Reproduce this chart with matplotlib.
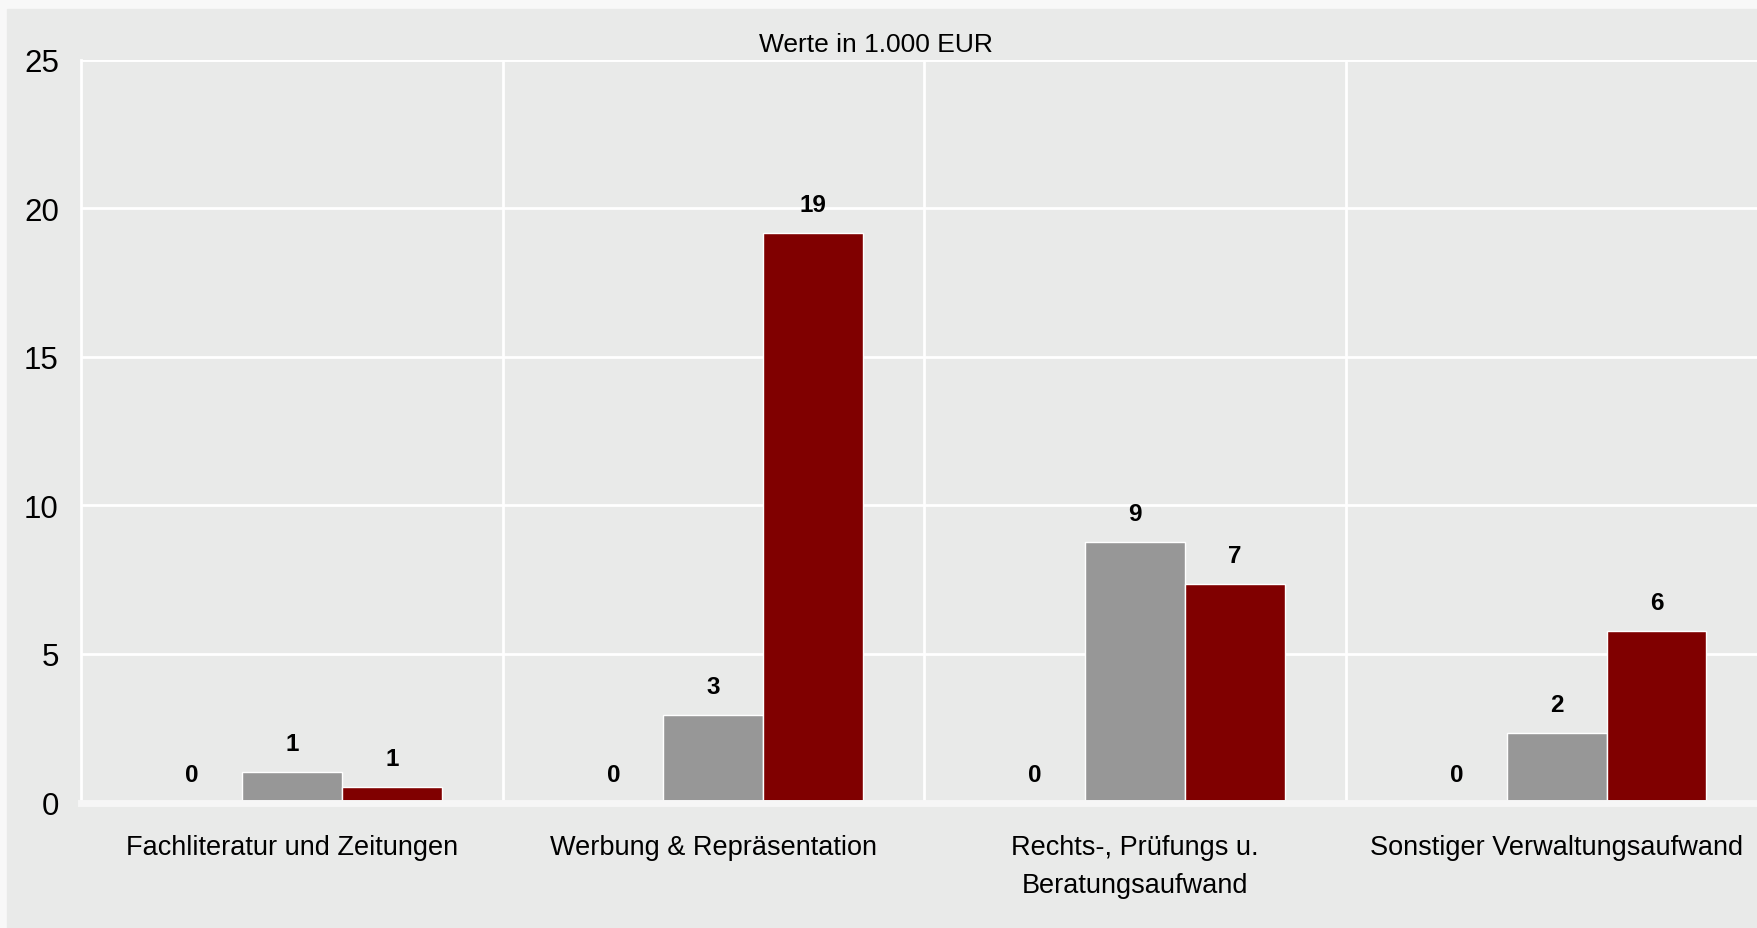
import matplotlib.pyplot as plt
import matplotlib.patches as mpatches
import numpy as np

plt.rcParams['font.family'] = ['Liberation Sans', 'DejaVu Sans']

categories = ['Fachliteratur und Zeitungen', 'Werbung & Repräsentation',
              'Rechts-, Prüfungs u.\nBeratungsaufwand', 'Sonstiger Verwaltungsaufwand']
series_a = [0, 0, 0, 0]
series_b = [1.02, 2.94, 8.75, 2.34]
series_c = [0.53, 19.15, 7.35, 5.77]
labels_a = ['0', '0', '0', '0']
labels_b = ['1', '3', '9', '2']
labels_c = ['1', '19', '7', '6']
colors = ['#e9eae9', '#979797', '#800000']

fig = plt.figure(figsize=(17.58, 9.29), dpi=100, facecolor='#f8f8f8')
# grey panel behind the chart
panel = mpatches.Rectangle((7 / 1758, 0), 1, 1 - 10 / 929,
                           transform=fig.transFigure, color='#e9eae9', zorder=-1)
fig.add_artist(panel)

ax = fig.add_axes([81 / 1758, 1 - 803.5 / 929, 4 * 421.6 / 1758, (803.5 - 60.5) / 929])
ax.set_facecolor('#e9eae9')

x = np.arange(len(categories))
w = 0.237
for i, (vals, labs) in enumerate([(series_a, labels_a), (series_b, labels_b), (series_c, labels_c)]):
    pos = x + (i - 1) * w
    ax.bar(pos, vals, w, color=colors[i], edgecolor='white' if i else 'none',
           linewidth=1, zorder=3)
    for xp, v, t in zip(pos, vals, labs):
        ax.annotate(t, (xp, v), xytext=(0, 20.5), textcoords='offset points',
                    ha='center', va='center', fontsize=17.5, fontweight='bold', zorder=4)

ax.set_xlim(-0.5, 3.5)
ax.set_ylim(0, 25)
ax.set_yticks([0, 5, 10, 15, 20, 25])
ax.set_xticks(x)
ax.set_xticklabels(categories, fontsize=19.5, linespacing=1.6)
ax.set_xticks([0.5, 1.5, 2.5], minor=True)
ax.tick_params(axis='y', length=0, labelsize=22.5, pad=16)
ax.tick_params(axis='x', which='both', length=0, pad=23)
ax.grid(axis='y', color='white', linewidth=2, zorder=1)
ax.grid(axis='x', which='minor', color='white', linewidth=2, zorder=1)
for s in ['top', 'right']:
    ax.spines[s].set_visible(False)
ax.spines['left'].set_color('white')
ax.spines['left'].set_linewidth(2)
ax.spines['bottom'].set_color('#f6f6f6')
ax.spines['bottom'].set_linewidth(5)
ax.spines['bottom'].set_zorder(5)
ax.axhline(25, color='white', linewidth=2, zorder=1)

fig.text(876 / 1758, 1 - 45 / 929, 'Werte in 1.000 EUR', ha='center', va='center', fontsize=19)

fig.savefig('out.png', dpi=100, facecolor=fig.get_facecolor())
